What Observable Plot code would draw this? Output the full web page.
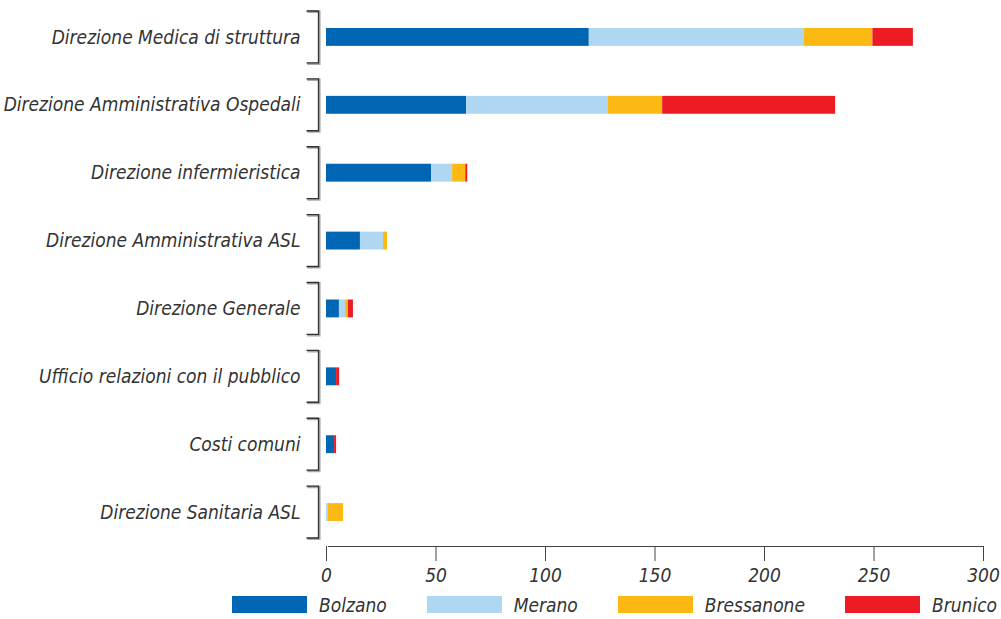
<!DOCTYPE html>
<html>
<head>
<meta charset="utf-8">
<script src="https://cdn.jsdelivr.net/npm/d3@7"></script>
<script src="https://cdn.jsdelivr.net/npm/@observablehq/plot@0.6"></script>
<style>
  html, body { margin: 0; padding: 0; background: #fff; }
  body { width: 1001px; height: 619px; overflow: hidden;
    font-family: "Liberation Sans Narrow", "DejaVu Sans Condensed", "Roboto", sans-serif;
    font-style: italic; color: #333; }
  #chart svg { display: block; }
  #legend { display: flex; justify-content: flex-end; align-items: center; gap: 40px;
    padding-right: 4px; height: 29px; font-size: 19px; }
  .item { display: flex; align-items: center; }
  .sw { width: 75px; height: 17px; margin-right: 12px; }
</style>
</head>
<body>
<div id="chart"></div>
<div id="legend"></div>
<script>
const categories = [
  "Direzione Medica di struttura",
  "Direzione Amministrativa Ospedali",
  "Direzione infermieristica",
  "Direzione Amministrativa ASL",
  "Direzione Generale",
  "Ufficio relazioni con il pubblico",
  "Costi comuni",
  "Direzione Sanitaria ASL"
];
const seriesNames = ["Bolzano", "Merano", "Bressanone", "Brunico"];
const colors = ["#0066b3", "#afd7f2", "#fdb913", "#ed1c24"];
const bolzano    = [120, 64,   48,  15.5, 5.9, 4.6, 3.7, 0];
const merano     = [98,  64.5, 9.6, 10.5, 2.8, 0,   0,   0.9];
const bressanone = [31.5, 25,  6,   1.9,  1.3, 0,   0,   6.9];
const brunico    = [18.5, 79,  0.9, 0,    2.3, 1.4, 0.9, 0];
const xTicks = [0, 50, 100, 150, 200, 250, 300];

const seriesValues = [bolzano, merano, bressanone, brunico];
const data = [];
categories.forEach((c, i) => {
  seriesNames.forEach((s, j) => data.push({category: c, series: s, value: seriesValues[j][i]}));
});

function decorations(index, scales, values, dims) {
  const y = scales.y, x = scales.x;
  let bw = y.bandwidth;
  if (typeof bw === "function") bw = bw();
  if (typeof bw !== "number" || !isFinite(bw) || bw <= 0) {
    bw = (dims.height - dims.marginTop - dims.marginBottom) / categories.length;
  }
  const x0 = x(0) - 7.5;
  const g = d3.create("svg:g").attr("fill", "none");
  for (const c of categories) {
    const t = y(c) + 8, b = y(c) + bw - 8;
    const d = `M${x0 - 12},${t}H${x0}V${b}H${x0 - 12}`;
    g.append("path").attr("d", d).attr("stroke", "#aaa").attr("stroke-width", 2.6).attr("transform", "translate(0.8,0.8)");
    g.append("path").attr("d", d).attr("stroke", "#333").attr("stroke-width", 1.3);
  }
  // axis baseline along the bottom of the frame
  const yb = dims.height - dims.marginBottom + 0.5;
  g.append("path")
    .attr("d", `M${x(xTicks[0]) + 2},${yb}H${x(xTicks[xTicks.length - 1])}`)
    .attr("stroke", "#444").attr("stroke-width", 1);
  return g.node();
}

const chart = Plot.plot({
  width: 1001,
  height: 590,
  marginLeft: 326,
  marginRight: 18,
  marginTop: 3,
  marginBottom: 44,
  style: {
    fontFamily: '"Liberation Sans Narrow", "DejaVu Sans Condensed", "Roboto", sans-serif',
    fontStyle: "italic",
    fontSize: "19px",
    color: "#333",
    background: "#fff"
  },
  x: { domain: [0, 300] },
  y: { domain: categories, padding: 0, round: false },
  color: { domain: seriesNames, range: colors },
  marks: [
    Plot.barX(data, Plot.stackX({
      y: "category", x: "value", fill: "series", z: "series",
      insetTop: 25, insetBottom: 25
    })),
    decorations,
    Plot.axisY({ tickSize: 0, tickPadding: 26, label: null, fontSize: 19 }),
    Plot.axisX({ ticks: xTicks, tickSize: 15, tickPadding: 7, label: null, stroke: "#444", fontSize: 19 })
  ]
});
document.getElementById("chart").appendChild(chart);

const legend = d3.select("#legend");
seriesNames.forEach((s, i) => {
  const it = legend.append("div").attr("class", "item");
  it.append("div").attr("class", "sw").style("background", colors[i]);
  it.append("span").text(s);
});
</script>
</body>
</html>
